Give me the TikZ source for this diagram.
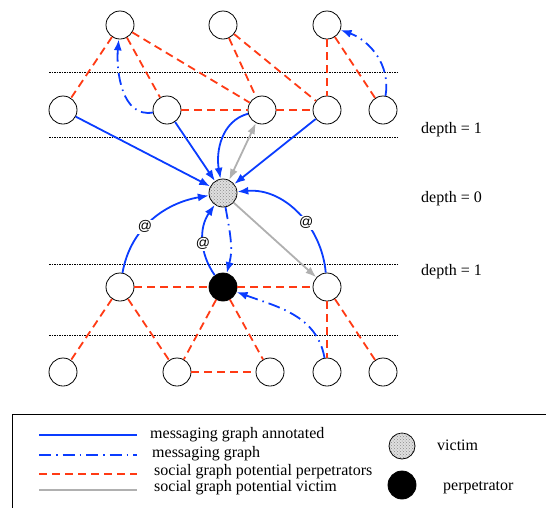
\documentclass[tikz,border=0pt]{standalone}
\usepackage{fontspec}
\setmainfont{Liberation Serif}
\newfontfamily\atfont{Liberation Sans}
\usetikzlibrary{arrows.meta,patterns}
\definecolor{msgblue}{HTML}{0A3CFF}
\definecolor{socred}{HTML}{FF3A14}
\definecolor{pvgray}{HTML}{B0B0B0}
\begin{document}
\begin{tikzpicture}[x=1pt,y=1pt,
  >={Latex[length=11pt,width=8pt]},
  nd/.style={circle,draw,line width=0.8pt,minimum size=28pt,inner sep=0pt,fill=white},
  vic/.style={nd, fill=gray!25, postaction={pattern=crosshatch dots, pattern color=gray!90}},
  perp/.style={nd, fill=black},
  ann/.style={draw=msgblue, line width=1.8pt},
  msg/.style={ann, dash pattern=on 12pt off 5pt on 1.5pt off 5pt},
  soc/.style={draw=socred, line width=1.8pt, dash pattern=on 8pt off 5pt},
  pv/.style={draw=pvgray, line width=1.8pt},
  sep/.style={line width=1pt, dash pattern=on 1.5pt off 1pt},
  atl/.style={font=\atfont\fontsize{14}{14}\selectfont, fill=white, inner sep=1pt},
  txt/.style={font=\fontsize{16}{18}\selectfont, anchor=base west, inner sep=0pt}
]
\useasboundingbox (0,0) rectangle (546,-507);

% separators
\draw[sep] (49,-72) -- (397,-72);
\draw[sep] (49,-137) -- (397,-137);
\draw[sep] (49,-264) -- (397,-264);
\draw[sep] (49,-335) -- (397,-335);

% nodes
\node[nd] (T1) at (120,-25) {};
\node[nd] (T2) at (223,-25) {};
\node[nd] (T3) at (327,-25) {};
\node[nd] (A1) at (63,-110) {};
\node[nd] (A2) at (167,-110) {};
\node[nd] (A3) at (262,-110) {};
\node[nd] (A4) at (327,-110) {};
\node[nd] (A5) at (383,-110) {};
\node[vic] (V) at (223,-193) {};
\node[nd] (B1) at (120,-287) {};
\node[perp] (P) at (223,-287) {};
\node[nd] (B3) at (327,-287) {};
\node[nd] (C1) at (63,-372) {};
\node[nd] (C2) at (177,-372) {};
\node[nd] (C3) at (270,-372) {};
\node[nd] (C4) at (327,-372) {};
\node[nd] (C5) at (383,-372) {};

% social graph potential perpetrators
\draw[soc] (T1) -- (A1);
\draw[soc] (T1) -- (A2);
\draw[soc] (T1) -- (A3);
\draw[soc] (T2) -- (A3);
\draw[soc] (T2) -- (A4);
\draw[soc] (T3) -- (A4);
\draw[soc] (T3) -- (A5);
\draw[soc] (A2) -- (A3);
\draw[soc] (A3) -- (A4);
\draw[soc] (B1) -- (P);
\draw[soc] (P) -- (B3);
\draw[soc] (B1) -- (C1);
\draw[soc] (B1) -- (C2);
\draw[soc] (P) -- (C2);
\draw[soc] (P) -- (C3);
\draw[soc] (C2) -- (C3);
\draw[soc] (B3) -- (C4);
\draw[soc] (B3) -- (C5);

% social graph potential victim
\draw[pv,<->] (V) -- (A3);
\draw[pv,->] (V) -- (B3);

% messaging graph annotated
\draw[ann,->] (A1) -- (V);
\draw[ann,->] (A2) -- (V);
\draw[ann,->] (A4) -- (V);
\draw[ann,->] (A3) to[out=195,in=100] (V);
\draw[ann,->] (B1) to[out=80,in=190] node[atl,pos=0.42]{@} (V);
\draw[ann,->] (B3) to[out=95,in=5] node[atl,pos=0.4]{@} (V);
\draw[ann,->] (P) to[out=125,in=-125] node[atl,pos=0.45]{@} (V);

% messaging graph
\draw[msg,->] (V) to[out=-80,in=75] (P);
\draw[msg,->] (C4) to[out=100,in=-20] (P);
\draw[msg,->] (A2) to[out=190,in=-95] (T1);
\draw[msg,->] (A5) to[out=80,in=-20] (T3);

% depth labels
\node[txt] (d1) at (421,-133) {depth = 1};
\node[txt] (d0) at (421,-202) {depth = 0};
\node[txt] (d2) at (421,-275) {depth = 1};

% legend
\draw[line width=0.8pt] (12,-520) -- (12,-414) -- (560,-414);
\coordinate (la1) at (39,-435); \coordinate (lb1) at (137,-435);
\coordinate (la2) at (39,-455); \coordinate (lb2) at (137,-455);
\coordinate (la3) at (39,-474); \coordinate (lb3) at (137,-474);
\coordinate (la4) at (39,-490); \coordinate (lb4) at (137,-490);
\draw[ann] (la1) -- (lb1);
\draw[msg] (la2) -- (lb2);
\draw[soc] (la3) -- (lb3);
\draw[pv] (la4) -- (lb4);
\node[txt] (t1) at (150,-438) {messaging graph annotated};
\node[txt] (t2) at (152,-457) {messaging graph};
\node[txt] (t3) at (154,-475) {social graph potential perpetrators};
\node[txt] (t4) at (154,-491) {social graph potential victim};
\node[vic,minimum size=26pt] (lv) at (402,-446) {};
\node[perp] (lp) at (402,-485) {};
\node[txt] (tv) at (437,-450) {victim};
\node[txt] (tp) at (443,-490) {perpetrator};
\end{tikzpicture}
\end{document}
